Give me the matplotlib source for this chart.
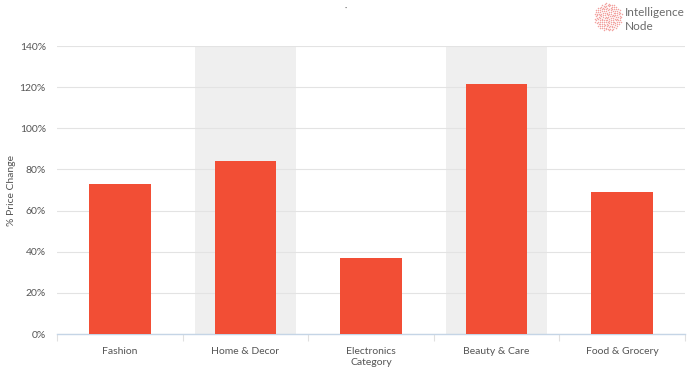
import numpy as np
import matplotlib.pyplot as plt

categories = ['Fashion', 'Home & Decor', 'Electronics', 'Beauty & Care', 'Food & Grocery']
price_change = [73, 84, 37, 121.5, 69]
shaded = [False, True, False, True, False]
yticks = [0, 20, 40, 60, 80, 100, 120, 140]

plt.rcParams['font.family'] = ['Lato', 'DejaVu Sans']
txt = '#555555'

fig = plt.figure(figsize=(6.88, 3.73), dpi=100)
ax = fig.add_axes([57 / 688, 1 - 334 / 373, 628 / 688, 288 / 373])

x = np.arange(len(categories))
for i, s in enumerate(shaded):
    if s:
        ax.axvspan(i - 0.4, i + 0.4, color='#efefef', zorder=0, lw=0)
ax.bar(x, price_change, width=0.49, color='#f24e35', zorder=3)

ax.set_xlim(-0.5, len(categories) - 0.5)
ax.set_ylim(0, 140)
ax.set_yticks(yticks)
ax.set_yticklabels([f'{v}%' for v in yticks], color=txt, fontsize=7.5)
ax.yaxis.grid(True, color='#e3e3e3', lw=0.8, zorder=1)
ax.tick_params(axis='y', length=0, pad=8)

ax.set_xticks(x)
ax.set_xticklabels(categories, color=txt, fontsize=7.5)
ax.tick_params(axis='x', length=0, pad=9)
# band boundary ticks
ax.set_xticks(np.arange(-0.5, len(categories)), minor=True)
ax.tick_params(axis='x', which='minor', length=5, color='#e0e0e0', width=0.8)

for sp in ['top', 'right', 'left']:
    ax.spines[sp].set_visible(False)
ax.spines['bottom'].set_color('#c5d5e6')
ax.spines['bottom'].set_linewidth(1.0)

ax.set_ylabel('% Price Change', color=txt, fontsize=7.5)
ax.yaxis.set_label_coords(-41 / 628, 0.5)
ax.set_xlabel('Category', color=txt, fontsize=7.5, labelpad=2)

# logo
n = 160
k = np.arange(n)
rad = np.sqrt(k / n) * 14
ang = k * 2.39996
fig_ax = fig.add_axes([0, 0, 1, 1], facecolor='none')
fig_ax.set_xlim(0, 688)
fig_ax.set_ylim(373, 0)
fig_ax.axis('off')
fig_ax.scatter(608 + rad * np.cos(ang), 17 + rad * np.sin(ang), s=1.2, color='#f2a3a0', lw=0)
fig_ax.text(625, 13, 'Intelligence', fontsize=8.5, color='#6b6b6b', va='center', ha='left')
fig_ax.text(625, 27, 'Node', fontsize=8.5, color='#6b6b6b', va='center', ha='left')
fig_ax.text(346, 8, '·', fontsize=6, color='#555555', ha='center', va='center')

fig.savefig('out.png', dpi=100)
